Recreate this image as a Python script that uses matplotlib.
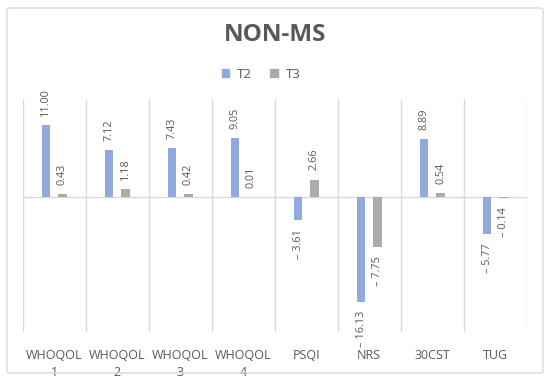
import matplotlib
matplotlib.use("Agg")
import matplotlib.pyplot as plt
from matplotlib.patches import Patch, FancyBboxPatch
import numpy as np

plt.rcParams['font.family'] = ['Open Sans', 'DejaVu Sans']

# data
categories = ["WHOQOL\n1", "WHOQOL\n2", "WHOQOL\n3", "WHOQOL\n4", "PSQI", "NRS", "30CST", "TUG"]
t2 = [11.00, 7.12, 7.43, 9.05, -3.61, -16.13, 8.89, -5.77]
t3 = [0.43, 1.18, 0.42, 0.01, 2.66, -7.75, 0.54, -0.14]

blue = "#8FAADC"
grey = "#ABABAB"
txt = "#595959"
grid = "#D9D9D9"

fig = plt.figure(figsize=(5.5, 3.81), dpi=100)
ax = fig.add_axes([0.041, 0.129, 0.917, 0.611])

x = np.arange(len(categories))
w = 0.135
off = 0.13
ax.bar(x - off, t2, width=w, color=blue, zorder=3)
ax.bar(x + off, t3, width=w, color=grey, zorder=3)

# data labels, rotated like the original
def label(xs, vals):
    for xi, v in zip(xs, vals):
        s = f"{v:.2f}" if v >= 0 else f"\u2013 {abs(v):.2f}"
        ax.annotate(s, (xi, v), xytext=(0, 6.5 if v >= 0 else -6.5),
                    textcoords="offset points", rotation=90,
                    ha="center", va="bottom" if v >= 0 else "top",
                    fontsize=7.8, color=txt, annotation_clip=False, zorder=4)

label(x - off, t2)
label(x + off, t3)

# gridlines between categories + zero line
for b in np.arange(-0.5, len(categories) + 0.5, 1):
    ax.axvline(b, color=grid, lw=1, zorder=1)
ax.axhline(0, color=grid, lw=1, zorder=2)

ax.set_xlim(-0.5, len(categories) - 0.5)
ax.set_ylim(-20.7, 15)
ax.set_yticks([])
ax.set_xticks(x)
ax.set_xticklabels(categories, fontsize=9, color=txt)
for t in ax.get_xticklabels():
    t.set_linespacing(1.45)
ax.tick_params(axis="x", length=0, pad=12)
for sp in ax.spines.values():
    sp.set_visible(False)

fig.text(0.5, 1 - 35 / 381, "NON-MS", ha="center", va="center",
         fontsize=17.5, fontweight="bold", color=txt)

handles = [Patch(color=blue, label="T2"), Patch(color=grey, label="T3")]
fig.legend(handles=handles, loc="center", bbox_to_anchor=(261 / 550, 1 - 74.5 / 381),
           ncol=2, frameon=False, fontsize=9.5, labelcolor=txt,
           handlelength=0.55, handleheight=0.55, handletextpad=0.6, columnspacing=1.4)

fig.add_artist(FancyBboxPatch((7 / 550, 8 / 381), 536 / 550, 365 / 381,
                              boxstyle="round,pad=0,rounding_size=0.005",
                              transform=fig.transFigure, fill=False,
                              edgecolor=grid, lw=1))

fig.savefig("out.png", dpi=100)
